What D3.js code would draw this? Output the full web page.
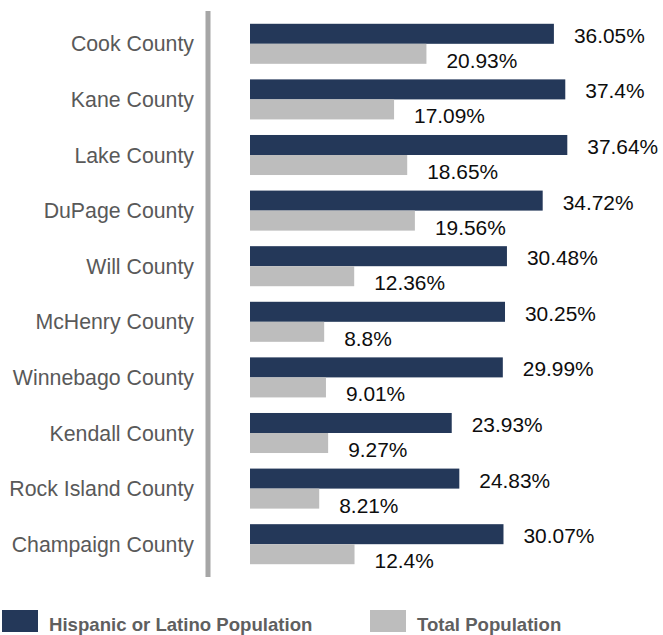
<!DOCTYPE html>
<html>
<head>
<meta charset="utf-8">
<script src="https://cdn.jsdelivr.net/npm/d3@7/dist/d3.min.js"></script>
<style>
  html, body { margin: 0; padding: 0; background: #fff; }
  svg { display: block; font-family: Arial, "Liberation Sans", sans-serif; }
</style>
</head>
<body>
<svg id="chart" width="663" height="635"></svg>
<script>
// Counties, top to bottom
const counties = [
  "Cook County", "Kane County", "Lake County", "DuPage County", "Will County",
  "McHenry County", "Winnebago County", "Kendall County", "Rock Island County",
  "Champaign County"
];
// Hispanic or Latino population share (%)
const hispanicValues = [36.05, 37.4, 37.64, 34.72, 30.48, 30.25, 29.99, 23.93, 24.83, 30.07];
// Total population share (%)
const totalValues = [20.93, 17.09, 18.65, 19.56, 12.36, 8.8, 9.01, 9.27, 8.21, 12.4];
// Series names for the legend
const seriesNames = ["Hispanic or Latino Population", "Total Population"];
const seriesColors = ["#243859", "#bdbdbd"];

const svg = d3.select("#chart");

const x = d3.scaleLinear().domain([0, 40]).range([250, 250 + 40 * 8.43]);

const y = d3.scaleBand()
  .domain(counties)
  .range([16, 572])
  .paddingInner(0.28)
  .paddingOuter(0.14);

const sub = d3.scaleBand()
  .domain([0, 1])
  .range([0, y.bandwidth()]);

const rows = counties.map((c, i) => ({
  county: c,
  values: [hispanicValues[i], totalValues[i]]
}));

// Category labels
svg.append("g")
  .selectAll("text")
  .data(counties)
  .join("text")
  .attr("x", 194)
  .attr("y", d => y(d) + y.bandwidth() / 2)
  .attr("dy", "0.36em")
  .attr("text-anchor", "end")
  .attr("fill", "#595959")
  .style("font-size", "21.3px")
  .text(d => d);

// Bars
const groups = svg.append("g")
  .selectAll("g")
  .data(rows)
  .join("g")
  .attr("transform", d => `translate(0,${y(d.county)})`);

groups.selectAll("rect")
  .data(d => d.values.map((v, k) => ({ v, k })))
  .join("rect")
  .attr("x", x(0))
  .attr("y", d => sub(d.k))
  .attr("width", d => x(d.v) - x(0))
  .attr("height", sub.bandwidth())
  .attr("fill", d => seriesColors[d.k]);

// Value labels
groups.selectAll("text")
  .data(d => d.values.map((v, k) => ({ v, k })))
  .join("text")
  .attr("x", d => x(d.v) + 20)
  .attr("y", d => sub(d.k) + sub.bandwidth() / 2 + (d.k === 0 ? 9 : 14))
  .attr("fill", "#0d0d0d")
  .style("font-size", "20.9px")
  .text(d => d.v + "%");

// Vertical category axis line
svg.append("line")
  .attr("x1", 208).attr("x2", 208)
  .attr("y1", 11).attr("y2", 577)
  .attr("stroke", "#a6a6a6")
  .attr("stroke-width", 5);

// Legend
const legendX = [2, 370];
const legend = svg.append("g")
  .selectAll("g")
  .data(seriesNames)
  .join("g")
  .attr("transform", (d, i) => `translate(${legendX[i]},610)`);

legend.append("rect")
  .attr("width", 36)
  .attr("height", 22)
  .attr("fill", (d, i) => seriesColors[i]);

legend.append("text")
  .attr("x", 47)
  .attr("y", 21)
  .attr("fill", "#5f5f5f")
  .style("font-size", "18.6px")
  .style("font-weight", "bold")
  .text(d => d);
</script>
</body>
</html>
